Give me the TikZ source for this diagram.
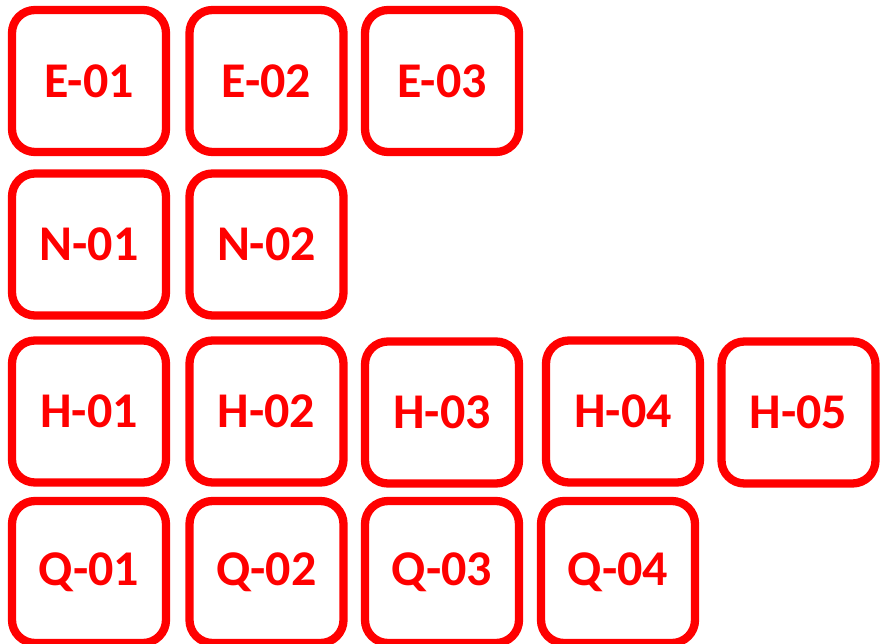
\documentclass[tikz,border=0pt]{standalone}
\usepackage{fontspec}
\setmainfont{Carlito}
\begin{document}
\begin{tikzpicture}[x=1pt,y=-1pt,
  tile/.style={draw=red, line width=8.3pt, rounded corners=23pt, minimum width=154pt, minimum height=142pt, inner sep=0pt, text=red, font=\fontsize{50}{56}\selectfont\bfseries, fill=white}]
\useasboundingbox (0,0) rectangle (880,644);
\node[tile] (e1) at (89,81) {E-01};
\node[tile] (e2) at (266.5,81) {E-02};
\node[tile] (e3) at (442,81) {E-03};
\node[tile] (n1) at (89,244.5) {N-01};
\node[tile] (n2) at (266.5,244.5) {N-02};
\node[tile] (h1) at (89,411.5) {H-01};
\node[tile] (h2) at (266.5,411.5) {H-02};
\node[tile] (h3) at (442,412.5) {H-03};
\node[tile] (h4) at (623,411.5) {H-04};
\node[tile] (h5) at (798.5,412.5) {H-05};
\node[tile] (q1) at (89,572) {Q-01};
\node[tile] (q2) at (266.5,572) {Q-02};
\node[tile] (q3) at (442,572) {Q-03};
\node[tile] (q4) at (618,572) {Q-04};
\end{tikzpicture}
\end{document}
